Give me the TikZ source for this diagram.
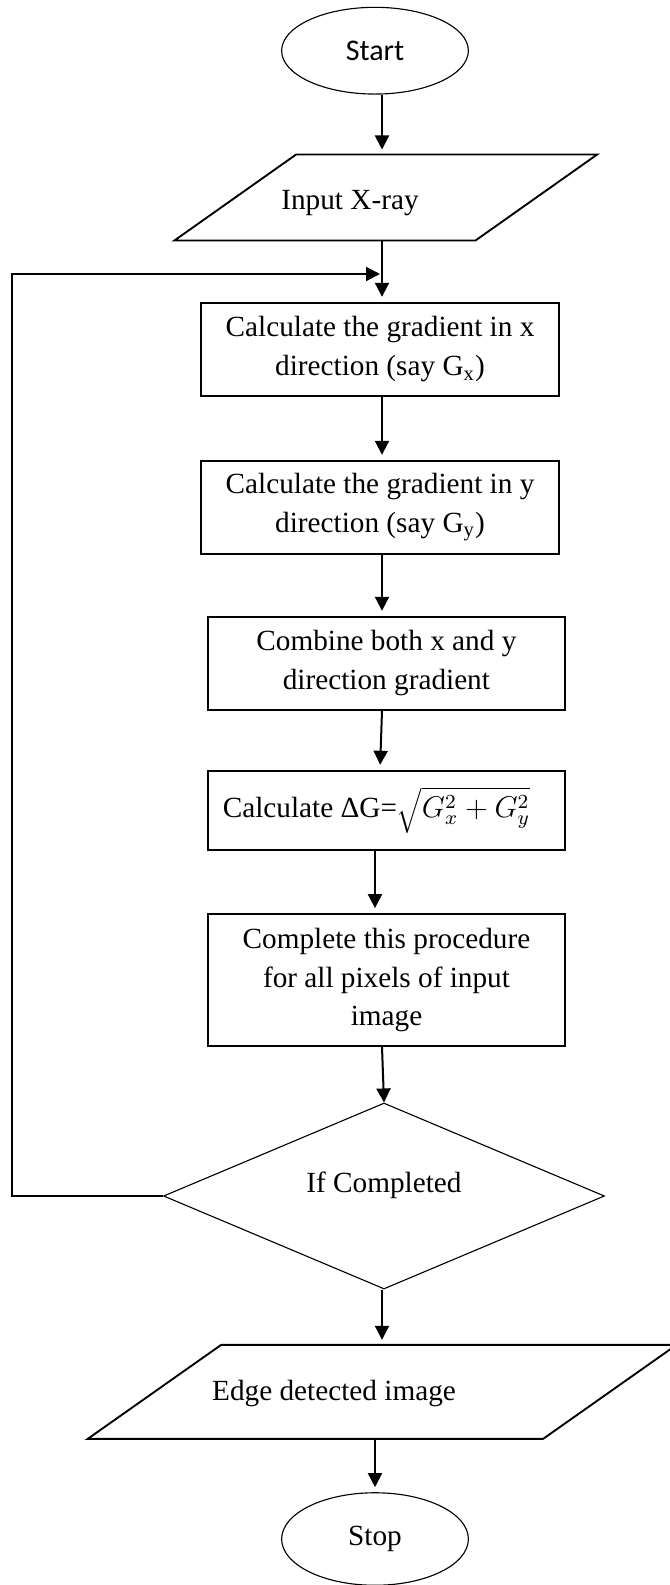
\documentclass[tikz,border=0pt]{standalone}
\usepackage{fontspec}
\setmainfont{Liberation Serif}
\newfontfamily\calibri{Carlito}
\usetikzlibrary{shapes.geometric,arrows.meta,calc}

\begin{document}
\begin{tikzpicture}[x=0.4pt,y=-0.4pt,
  font=\fontsize{11.7}{15.5}\selectfont,
  terminal/.style={draw,ellipse,line width=0.45pt,minimum width=74.7pt,inner sep=0pt},
  io/.style={rectangle,inner sep=0pt},
  ioline/.style={line width=0.75pt,line join=miter},
  process/.style={draw,rectangle,line width=0.7pt,align=center,inner sep=0pt},
  decision/.style={draw,diamond,line width=0.45pt,inner sep=0pt},
  flow/.style={line width=0.8pt,-{Triangle[length=5.6pt,width=5.6pt]},shorten >=2pt}]
\useasboundingbox (0,0) rectangle (669,1585);
% column of the arrows and the loop back
\coordinate (col) at (382,0);
\coordinate (lft) at (12,274);
\coordinate (fb) at (380,274);
% nodes
\node[terminal,minimum height=34.7pt,font=\calibri\fontsize{12}{14}\selectfont] (start) at (375,50.7) {Start};
\node[io,minimum width=168.7pt,minimum height=34pt] (input) at (385.8,197.5) {};
\draw[ioline] (input.south west) -- ($(input.north west)+(121.7,0)$) -- (input.north east)
  -- ($(input.south east)+(-121.7,0)$) -- cycle;
\node (inputtxt) at (350,203) {Input X-ray};
\node[process,minimum width=143.2pt,minimum height=37.3pt] (gx) at (380,349.3)
  {Calculate the gradient in x\\direction (say G\textsubscript{x})};
\node[process,minimum width=143.2pt,minimum height=37.3pt] (gy) at (380,507.3)
  {Calculate the gradient in y\\direction (say G\textsubscript{y})};
\node[process,minimum width=142.8pt,minimum height=37.3pt] (comb) at (386.4,663.3)
  {Combine both x and y\\direction gradient};
\node[process,minimum width=142.8pt,minimum height=31.7pt] (grad) at (386.5,810.3)
  {Calculate ΔG=$\sqrt{G_x^2+G_y^2}$\hspace*{8pt}};
\node[process,minimum width=142.8pt,minimum height=52.8pt] (proc) at (386.5,980)
  {Complete this procedure\\for all pixels  of input\\image};
\node[decision,minimum width=176.4pt,minimum height=74.4pt,
  label={[yshift=4.4pt]center:If Completed}] (cond) at (384,1196) {};
\node[io,minimum width=235.1pt,minimum height=37.2pt] (edge) at (382.2,1391.8) {};
\draw[ioline] (edge.south west) -- ($(edge.north west)+(133.4,0)$) -- (edge.north east)
  -- ($(edge.south east)+(-133.4,0)$) -- cycle;
\node (edgetxt) at (334,1393.5) {Edge detected image};
\node[terminal,minimum height=37pt] (stop) at (375,1539) {Stop};
% connectors
\draw[flow] (start.south -| col) -- (input.north -| col);
\draw[flow] (input.south -| col) -- (gx.north -| col);
\draw[flow] (gx.south -| col) -- (gy.north -| col);
\draw[flow] (gy.south -| col) -- (comb.north -| col);
\draw[flow] (comb.south -| col) -- ($(grad.north -| col)+(-2,0)$);
\draw[flow] ($(grad.south)+(-11.5,0)$) -- ($(proc.north)+(-11.5,0)$);
\draw[flow,shorten >=0pt] (proc.south -| col) -- (cond.north);
\draw[flow] (cond.south -| col) -- (edge.north -| col);
\draw[flow] (edge.south -| stop) -- (stop.north);
\draw[flow,shorten >=0pt] (cond.west) -| (lft) -- (fb);
\end{tikzpicture}
\end{document}
